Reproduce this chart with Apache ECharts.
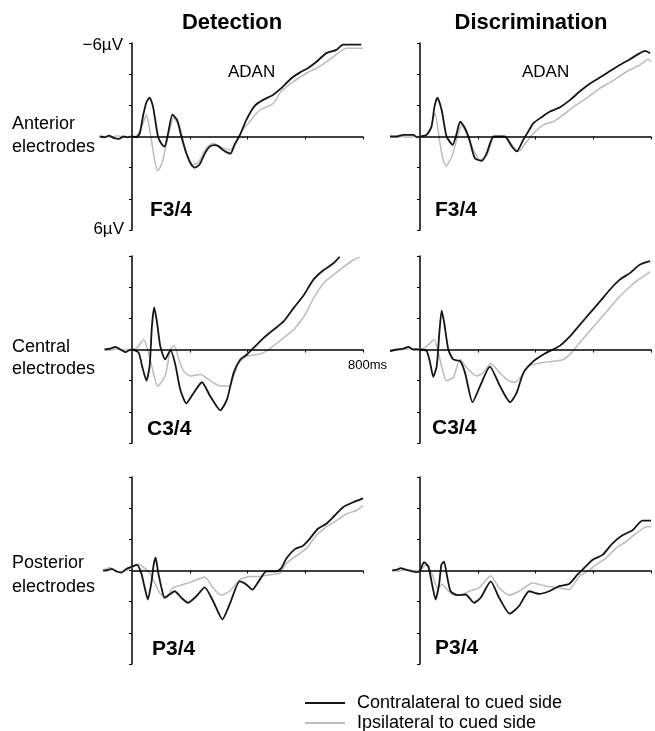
<!DOCTYPE html>
<html>
<head>
<meta charset="utf-8">
<script src="https://cdn.jsdelivr.net/npm/echarts@6/dist/echarts.min.js"></script>
<style>
html,body{margin:0;padding:0;background:#fff;}
#chart{width:655px;height:731px;}
</style>
</head>
<body>
<div id="chart"></div>
<script>
// ---- data (time in ms, amplitude in µV; negative plotted upward) ----
const columnTitles = ['Detection', 'Discrimination'];
const rowLabels = [['Anterior', 'electrodes'], ['Central', 'electrodes'], ['Posterior', 'electrodes']];
const panelLabels = ['F3/4', 'F3/4', 'C3/4', 'C3/4', 'P3/4', 'P3/4'];
const seriesNames = ['Contralateral to cued side', 'Ipsilateral to cued side'];
const yTickLabels = ['\u22126\u00b5V', '6\u00b5V'];
const xTicks = [200, 400, 600, 800];
const xEndLabel = '800ms';
const componentLabel = 'ADAN';

const detF_contra = [[-112,0],[-95,0.05],[-80,-0.05],[-62,0.1],[-45,0.15],[-30,0],[-15,0.05],[0,0],[15,0.05],[27,-0.2],[38,-1.3],[50,-2.2],[61,-2.5],[73,-1.9],[90,0],[105,0.55],[113,0.65],[125,-0.2],[140,-1.4],[156,-1.07],[171,0],[188,1.07],[205,1.8],[217,2.0],[234,1.8],[252,1.1],[269,0.65],[285,0.55],[298,0.6],[314,0.85],[327,1.0],[341,1.1],[356,0.5],[374,-0.1],[396,-1.07],[425,-1.97],[454,-2.35],[488,-2.67],[517,-3.1],[552,-3.74],[581,-4.1],[610,-4.4],[639,-4.8],[673,-5.35],[708,-5.56],[731,-5.9],[766,-5.9],[794,-5.9]];
const detF_ipsi = [[-112,0],[-90,0],[-70,0.05],[-50,-0.05],[-30,0.05],[-10,0],[10,0],[25,-0.3],[38,-0.85],[50,-1.4],[58,-0.8],[67,0.2],[78,1.5],[88,2.2],[97,2.0],[107,1.5],[125,0],[144,-1.2],[165,-0.64],[182,0.65],[196,1.4],[211,1.8],[229,1.7],[257,0.75],[281,0.43],[304,0.65],[338,0.86],[356,0.5],[379,-0.3],[408,-0.96],[443,-1.7],[488,-2.1],[517,-2.9],[558,-3.5],[604,-4.06],[650,-4.5],[696,-5.1],[743,-5.67],[800,-5.67]];

const disF_contra = [[-104,0],[-80,0],[-58,-0.1],[-40,-0.1],[-23,-0.1],[-10,0.05],[0,0],[23,-0.1],[40,-0.64],[50,-1.9],[60,-2.5],[75,-1.7],[92,0],[113,0.53],[127,-0.2],[139,-0.96],[156,-0.53],[171,0.2],[190,1.4],[214,1.56],[231,1.07],[254,0],[275,0],[294,0],[318,0.64],[335,0.96],[358,0.2],[375,-0.32],[393,-0.86],[421,-1.24],[450,-1.6],[485,-1.88],[520,-2.35],[554,-2.9],[589,-3.4],[624,-3.8],[658,-4.2],[693,-4.6],[727,-4.96],[762,-5.35],[779,-5.5],[797,-5.35]];
const disF_ipsi = [[-104,0],[-80,0.05],[-60,0],[-40,0.05],[-20,0],[0,0],[20,-0.1],[35,-0.43],[52,-1.5],[69,0.43],[80,1.5],[90,1.9],[110,1.3],[127,0.2],[144,-0.7],[162,-0.2],[185,0.86],[208,1.5],[231,1.2],[254,0.1],[275,0],[294,0],[323,0.64],[341,0.96],[370,0.32],[393,-0.2],[427,-0.75],[462,-0.96],[497,-1.4],[531,-1.9],[577,-2.46],[624,-3.1],[670,-3.6],[716,-4.17],[762,-4.6],[791,-4.96],[800,-4.8]];

const detC_contra = [[-95,0],[-75,-0.06],[-58,-0.17],[-40,0],[-23,0.17],[-10,0.05],[0,0],[23,0.2],[35,1.07],[50,2.0],[61,1.07],[69,-1.5],[77,-2.7],[87,-1.7],[98,-0.2],[115,0.64],[133,0.04],[150,0.96],[167,2.56],[188,3.45],[214,2.77],[242,2.1],[271,3.0],[306,3.9],[329,3.2],[352,1.5],[375,0.64],[398,0.32],[421,-0.1],[456,-0.75],[491,-1.28],[525,-1.8],[560,-2.67],[595,-3.5],[629,-4.5],[664,-5.1],[699,-5.55],[719,-5.95]];
const detC_ipsi = [[-95,0],[-75,0.05],[-55,-0.05],[-35,0.05],[-15,0],[0,0],[17,-0.1],[40,-0.64],[63,0.64],[89,2.35],[115,1.7],[133,0],[147,-0.25],[162,0.64],[179,1.4],[202,1.7],[237,1.6],[271,2.0],[306,2.35],[335,2.35],[352,1.7],[370,0.85],[398,0.43],[433,0.32],[456,0.2],[473,0],[491,-0.25],[525,-0.75],[560,-1.28],[595,-2.1],[629,-3.3],[664,-4.27],[699,-4.8],[733,-5.3],[768,-5.76],[789,-5.93]];

const disC_contra = [[-104,0.1],[-80,0],[-58,-0.05],[-40,-0.17],[-23,0],[0,0],[23,0.1],[35,0.85],[46,1.75],[58,1.07],[67,-1.07],[75,-2.5],[84,-1.7],[98,0],[115,0.64],[139,0.75],[156,1.5],[182,3.38],[208,2.35],[242,1.1],[277,2.35],[312,3.38],[335,2.77],[358,1.5],[393,0.75],[427,0.32],[456,0.04],[485,-0.25],[520,-0.86],[554,-1.6],[589,-2.35],[624,-3.1],[658,-3.85],[693,-4.5],[727,-4.9],[762,-5.45],[797,-5.67]];
const disC_ipsi = [[-104,0],[-80,0.05],[-55,0],[-30,-0.05],[0,0],[23,-0.2],[49,-0.64],[69,0.64],[92,2.0],[115,1.8],[139,0.64],[162,1.17],[196,1.7],[219,1.5],[245,0.9],[277,1.5],[306,2.0],[329,2.1],[352,1.7],[375,1.07],[416,0.86],[462,0.75],[497,0.64],[525,0.2],[543,-0.2],[577,-0.96],[612,-1.7],[647,-2.46],[681,-3.2],[716,-3.85],[751,-4.4],[797,-5.0]];

const detP_contra = [[-100,0],[-89,0],[-70,-0.1],[-55,0.05],[-37,0.13],[-20,-0.1],[0,-0.25],[17,-0.36],[32,0.17],[44,1.1],[55,1.86],[67,0.8],[75,-0.36],[82,-0.82],[90,0.06],[102,1.1],[113,1.75],[130,1.54],[148,1.33],[171,1.75],[194,2.07],[223,1.65],[252,1.08],[281,1.97],[313,3.13],[338,2.18],[373,0.7],[396,0.9],[417,1.23],[442,0.6],[465,0.06],[500,0.06],[517,-0.15],[535,-0.78],[564,-1.37],[592,-1.58],[616,-2.05],[644,-2.68],[673,-3.0],[702,-3.53],[731,-4.06],[766,-4.38],[800,-4.63]];
const detP_ipsi = [[-100,0],[-77,-0.2],[-60,0],[-40,0.1],[-20,0],[0,-0.2],[21,-0.4],[44,-0.15],[61,0.17],[79,0.8],[96,1.44],[119,1.75],[142,1.12],[177,0.9],[211,0.7],[252,0.42],[281,1.12],[309,1.58],[338,1.33],[373,0.6],[408,0.38],[442,0.38],[477,0.27],[512,0.17],[535,-0.46],[570,-0.95],[604,-1.42],[639,-2.26],[673,-2.8],[708,-3.2],[743,-3.64],[777,-3.85],[800,-4.16]];

const disP_contra = [[-96,0],[-80,-0.05],[-67,-0.15],[-50,-0.05],[-27,0.06],[-10,0.1],[0,0],[14,-0.53],[29,-0.25],[43,1.0],[54,1.86],[66,0.9],[74,-0.36],[83,-0.57],[95,0.49],[106,1.33],[129,1.58],[158,1.54],[187,2.07],[210,1.75],[245,0.7],[274,1.75],[311,2.77],[343,2.28],[378,1.33],[412,1.5],[447,1.33],[482,1.0],[516,0.87],[545,0.27],[568,-0.15],[597,-0.68],[632,-1.0],[666,-1.73],[701,-2.26],[736,-2.58],[770,-3.2],[800,-3.2]];
const disP_ipsi = [[-96,0],[-75,0.05],[-55,-0.05],[-30,0],[0,0],[20,-0.36],[43,0.27],[60,1.12],[77,0.9],[95,1.23],[112,1.54],[141,1.58],[170,1.33],[204,1.12],[245,0.34],[274,1.12],[308,1.58],[343,1.33],[390,0.8],[435,1.0],[482,1.12],[516,1.23],[551,0.38],[585,0],[609,-0.36],[643,-0.78],[678,-1.42],[713,-1.84],[747,-2.37],[782,-2.8],[800,-2.83]];

const panelData = [
  [detF_contra, detF_ipsi], [disF_contra, disF_ipsi],
  [detC_contra, detC_ipsi], [disC_contra, disC_ipsi],
  [detP_contra, detP_ipsi], [disP_contra, disP_ipsi]
];

// ---- layout ----
const FONT = 'Liberation Sans, Arial, Helvetica, sans-serif';
const X_MIN = -115, X_MAX = 800;
const PX_PER_MS = 231 / 800;
const axisX = [132, 420];          // pixel position of the time-zero axis
const rowTop = [43, 256, 477];
const PH = 187;
const gridLeftPad = -X_MIN * PX_PER_MS;
const PW = (X_MAX - X_MIN) * PX_PER_MS;
const colors = ['#151515', '#bcbcbc'];

const grids = [], xAxes = [], yAxes = [], series = [];
for (let i = 0; i < 6; i++) {
  const r = Math.floor(i / 2), c = i % 2;
  grids.push({left: axisX[c] - gridLeftPad, top: rowTop[r], width: PW, height: PH});
  xAxes.push({
    gridIndex: i, type: 'value', min: X_MIN, max: X_MAX,
    axisLine: {show: false, onZero: true},
    axisTick: {show: true, length: 3, customValues: xTicks, lineStyle: {color: '#000', width: 1}},
    axisLabel: {show: false}, splitLine: {show: false}
  });
  yAxes.push({
    gridIndex: i, type: 'value', inverse: true, min: -6, max: 6, interval: 2,
    axisLine: {show: true, onZero: true, lineStyle: {color: '#000', width: 1.5}},
    axisTick: {show: true, length: 3, lineStyle: {color: '#000', width: 1}},
    axisLabel: {show: false}, splitLine: {show: false}
  });
  // ipsilateral (gray) first so contralateral (black) is on top
  [1, 0].forEach(k => {
    const s = {
      name: seriesNames[k], type: 'line', xAxisIndex: i, yAxisIndex: i,
      data: panelData[i][k], symbol: 'none', showSymbol: false,
      smooth: 0.2, animation: false,
      lineStyle: {color: colors[k], width: k === 0 ? 1.8 : 1.5},
      itemStyle: {color: colors[k]}, z: k === 0 ? 3 : 2
    };
    if (k === 1) {
      // the time axis (0 to 800 ms) drawn at 0 µV
      s.markLine = {
        silent: true, symbol: 'none', animation: false, label: {show: false},
        lineStyle: {color: '#000', width: 1.5, type: 'solid'},
        data: [[{coord: [0, 0]}, {coord: [X_MAX, 0]}]]
      };
    }
    series.push(s);
  });
}

const graphic = [];
function txt(x, y, text, size, weight, align) {
  graphic.push({type: 'text', x: x, y: y, silent: true,
    style: {text: text, fill: '#000', font: (weight || 'normal') + ' ' + size + 'px ' + FONT,
      textAlign: align || 'left', textVerticalAlign: 'middle'}});
}
txt(232, 23, columnTitles[0], 22, 'bold', 'center');
txt(531, 23, columnTitles[1], 22, 'bold', 'center');
const rowLabelY = [[124, 147], [347, 369], [563, 587]];
rowLabels.forEach((lab, r) => {
  txt(12, rowLabelY[r][0], lab[0], 18);
  txt(12, rowLabelY[r][1], lab[1], 18);
});
txt(123, 45, yTickLabels[0], 17, 'normal', 'right');
txt(124, 229, yTickLabels[1], 17, 'normal', 'right');
const plabPos = [[150, 210], [435, 210], [147, 429], [432, 428], [152, 649], [435, 648]];
panelLabels.forEach((p, i) => txt(plabPos[i][0], plabPos[i][1], p, 21, 'bold'));
txt(228, 72, componentLabel, 17);
txt(522, 72, componentLabel, 17);
txt(348, 365, xEndLabel, 13);

function legendFor(name, top) {
  return {
    data: [name], orient: 'horizontal', left: 305, top: top, padding: 0,
    itemWidth: 40, itemHeight: 2, icon: 'rect', selectedMode: false,
    textStyle: {fontFamily: FONT, fontSize: 18, color: '#000', lineHeight: 20, padding: [0, 0, 0, 7]}
  };
}

const chart = echarts.init(document.getElementById('chart'), null, {renderer: 'canvas'});
chart.setOption({
  animation: false,
  backgroundColor: '#fff',
  grid: grids, xAxis: xAxes, yAxis: yAxes, series: series,
  legend: [legendFor(seriesNames[0], 693), legendFor(seriesNames[1], 713)],
  graphic: graphic
});
</script>
</body>
</html>
